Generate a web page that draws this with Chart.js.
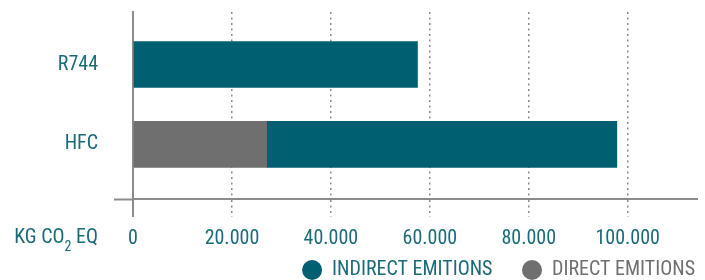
<!DOCTYPE html>
<html>
<head>
<meta charset="utf-8">
<script src="https://cdn.jsdelivr.net/npm/chart.js@4"></script>
<style>
  html, body { margin: 0; padding: 0; background: #fff; }
  #wrap { width: 705px; height: 280px; }
</style>
</head>
<body>
<div id="wrap"><canvas id="emissionsChart"></canvas></div>
<script>
// data (top to bottom)
const categories = ["R744", "HFC"];
const directEmissions = [0, 27000];
const indirectEmissions = [57500, 70800];
const xTicks = [0, 20000, 40000, 60000, 80000, 100000];

const teal = "#005f70";
const tealText = "#1b6a7a";
const grey = "#6f6f6f";
const axisGrey = "#8c8c8c";
const fontFamily = "'Roboto Condensed', 'Liberation Sans Narrow', 'DejaVu Sans Condensed', Roboto, sans-serif";

// y is a linear index axis: first category on top
const yLow = -0.684;
const yHigh = 1.658;
const rowOf = i => categories.length - 1 - i;

const toPoints = values => values.map((v, i) => ({ x: v, y: rowOf(i) }));

const fmt = v => String(v).replace(/\B(?=(\d{3})+(?!\d))/g, ".");

// "KG CO2 EQ" unit label left of the x tick labels
const unitLabel = {
    id: "unitLabel",
    afterDraw(chart) {
        const ctx = chart.ctx;
        const right = chart.chartArea.left - 35;
        const y = chart.chartArea.bottom + 39;
        ctx.save();
        ctx.fillStyle = tealText;
        ctx.textBaseline = "middle";
        const big = "20px " + fontFamily;
        const small = "14px " + fontFamily;
        ctx.font = big;
        const w1 = ctx.measureText("KG CO").width;
        const w3 = ctx.measureText(" EQ").width;
        ctx.font = small;
        const w2 = ctx.measureText("2").width;
        const cx = right - w1 - w2 - w3;
        ctx.textAlign = "left";
        ctx.font = big;
        ctx.fillText("KG CO", cx, y);
        ctx.font = small;
        ctx.fillText("2", cx + w1, y + 9);
        ctx.font = big;
        ctx.fillText(" EQ", cx + w1 + w2, y);
        ctx.restore();
    }
};

document.addEventListener("DOMContentLoaded", () => {
    const ctx = document.getElementById("emissionsChart").getContext("2d");
    new Chart(ctx, {
        type: "bar",
        data: {
            datasets: [{
                label: "DIRECT EMITIONS",
                data: toPoints(directEmissions),
                backgroundColor: grey,
                barThickness: 46,
            }, {
                label: "INDIRECT EMITIONS",
                data: toPoints(indirectEmissions),
                backgroundColor: teal,
                barThickness: 46,
            }],
        },
        options: {
            indexAxis: "y",
            responsive: true,
            maintainAspectRatio: false,
            animation: false,
            layout: { padding: { top: 12, right: 8, left: 0, bottom: 0 } },
            scales: {
                x: {
                    type: "linear",
                    stacked: true,
                    min: 0,
                    max: 114000,
                    afterBuildTicks: scale => { scale.ticks = xTicks.map(v => ({ value: v })); },
                    afterFit: scale => { scale.height = 59; },
                    ticks: {
                        color: tealText,
                        font: { family: fontFamily, size: 20 },
                        padding: 10,
                        callback: v => fmt(v),
                    },
                    grid: {
                        color: axisGrey,
                        tickColor: axisGrey,
                        lineWidth: c => (c.tick && c.tick.value === 0 ? 2 : 1.5),
                        tickWidth: c => (c.tick && c.tick.value === 0 ? 2 : 1.5),
                        tickLength: 18,
                        tickBorderDash: c => (c.tick && c.tick.value === 0 ? [] : [2, 3.5]),
                    },
                    border: {
                        display: true,
                        color: axisGrey,
                        width: 2,
                        dash: c => (c.tick && c.tick.value !== 0 ? [2, 3.5] : []),
                    },
                },
                y: {
                    type: "linear",
                    stacked: true,
                    offset: false,
                    min: yLow,
                    max: yHigh,
                    afterBuildTicks: scale => {
                        const rows = categories.map((c, i) => ({ value: rowOf(i) })).reverse();
                        scale.ticks = [{ value: yLow }].concat(rows, [{ value: yHigh }]);
                    },
                    afterFit: scale => {
                        scale.width = 133;
                        scale.paddingTop = 0;
                        scale.paddingBottom = 0;
                    },
                    ticks: {
                        color: tealText,
                        font: { family: fontFamily, size: 20 },
                        padding: 16,
                        callback: v => {
                            const name = categories[rowOf(v)];
                            return name !== undefined ? name : "";
                        },
                    },
                    grid: {
                        offset: false,
                        drawOnChartArea: false,
                        tickLength: 19,
                        tickWidth: 2,
                        tickColor: c => (c.tick && c.tick.value === yLow ? axisGrey : "rgba(0,0,0,0)"),
                    },
                    border: { display: true, color: axisGrey, width: 2 },
                },
            },
            plugins: {
                tooltip: { enabled: false },
                legend: {
                    position: "bottom",
                    align: "end",
                    reverse: true,
                    maxHeight: 22,
                    labels: {
                        usePointStyle: true,
                        pointStyle: "circle",
                        pointStyleWidth: 20,
                        boxHeight: 14,
                        padding: 2,
                        font: { family: fontFamily, size: 20 },
                        generateLabels: chart => {
                            const items = Chart.defaults.plugins.legend.labels.generateLabels(chart);
                            items.forEach(it => {
                                it.fontColor = it.datasetIndex === 1 ? tealText : grey;
                                it.lineWidth = 0;
                                // keep a wider gap after the first entry
                                if (it.datasetIndex === 1) it.text = it.text + "      ";
                            });
                            return items;
                        },
                    },
                },
            },
        },
        plugins: [unitLabel],
    });
});
</script>
</body>
</html>
